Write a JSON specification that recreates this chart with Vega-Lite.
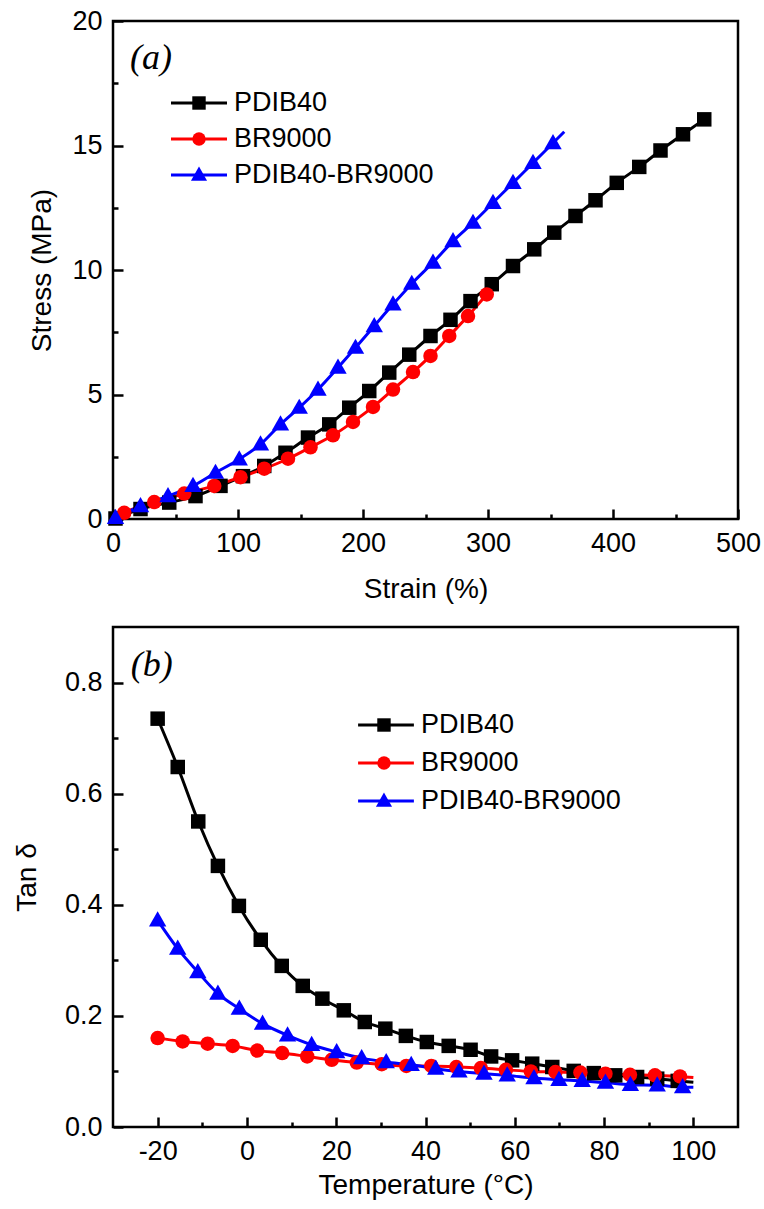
{
  "$schema": "https://vega.github.io/schema/vega-lite/v6.json",
  "padding": {"left": 12, "top": 5, "right": 5, "bottom": 5},
  "background": "white",
  "spacing": 20,
  "datasets": {
    "names": [
      {"series": "PDIB40"},
      {"series": "BR9000"},
      {"series": "PDIB40-BR9000"}
    ],
    "tensile": [
      {"series": "PDIB40", "strain": 2, "stress": 0.02, "sym": 1},
      {"series": "PDIB40", "strain": 22, "stress": 0.4, "sym": 1},
      {"series": "PDIB40", "strain": 45, "stress": 0.66, "sym": 1},
      {"series": "PDIB40", "strain": 66, "stress": 0.92, "sym": 1},
      {"series": "PDIB40", "strain": 86, "stress": 1.33, "sym": 1},
      {"series": "PDIB40", "strain": 104, "stress": 1.72, "sym": 1},
      {"series": "PDIB40", "strain": 121, "stress": 2.13, "sym": 1},
      {"series": "PDIB40", "strain": 138, "stress": 2.66, "sym": 1},
      {"series": "PDIB40", "strain": 156, "stress": 3.27, "sym": 1},
      {"series": "PDIB40", "strain": 173, "stress": 3.8, "sym": 1},
      {"series": "PDIB40", "strain": 189, "stress": 4.47, "sym": 1},
      {"series": "PDIB40", "strain": 205, "stress": 5.14, "sym": 1},
      {"series": "PDIB40", "strain": 221, "stress": 5.88, "sym": 1},
      {"series": "PDIB40", "strain": 237, "stress": 6.6, "sym": 1},
      {"series": "PDIB40", "strain": 254, "stress": 7.35, "sym": 1},
      {"series": "PDIB40", "strain": 270, "stress": 8.0, "sym": 1},
      {"series": "PDIB40", "strain": 286, "stress": 8.75, "sym": 1},
      {"series": "PDIB40", "strain": 303, "stress": 9.43, "sym": 1},
      {"series": "PDIB40", "strain": 320, "stress": 10.16, "sym": 1},
      {"series": "PDIB40", "strain": 337, "stress": 10.83, "sym": 1},
      {"series": "PDIB40", "strain": 353, "stress": 11.5, "sym": 1},
      {"series": "PDIB40", "strain": 370, "stress": 12.17, "sym": 1},
      {"series": "PDIB40", "strain": 386, "stress": 12.8, "sym": 1},
      {"series": "PDIB40", "strain": 403, "stress": 13.5, "sym": 1},
      {"series": "PDIB40", "strain": 421, "stress": 14.14, "sym": 1},
      {"series": "PDIB40", "strain": 438, "stress": 14.8, "sym": 1},
      {"series": "PDIB40", "strain": 456, "stress": 15.45, "sym": 1},
      {"series": "PDIB40", "strain": 473, "stress": 16.05, "sym": 1},
      {"series": "BR9000", "strain": 1, "stress": 0.02, "sym": 0},
      {"series": "BR9000", "strain": 9, "stress": 0.25, "sym": 1},
      {"series": "BR9000", "strain": 33, "stress": 0.68, "sym": 1},
      {"series": "BR9000", "strain": 57, "stress": 1.02, "sym": 1},
      {"series": "BR9000", "strain": 81, "stress": 1.33, "sym": 1},
      {"series": "BR9000", "strain": 102, "stress": 1.68, "sym": 1},
      {"series": "BR9000", "strain": 121, "stress": 2.02, "sym": 1},
      {"series": "BR9000", "strain": 140, "stress": 2.42, "sym": 1},
      {"series": "BR9000", "strain": 158, "stress": 2.88, "sym": 1},
      {"series": "BR9000", "strain": 176, "stress": 3.36, "sym": 1},
      {"series": "BR9000", "strain": 192, "stress": 3.9, "sym": 1},
      {"series": "BR9000", "strain": 208, "stress": 4.5, "sym": 1},
      {"series": "BR9000", "strain": 224, "stress": 5.2, "sym": 1},
      {"series": "BR9000", "strain": 240, "stress": 5.9, "sym": 1},
      {"series": "BR9000", "strain": 254, "stress": 6.55, "sym": 1},
      {"series": "BR9000", "strain": 269, "stress": 7.35, "sym": 1},
      {"series": "BR9000", "strain": 284, "stress": 8.15, "sym": 1},
      {"series": "BR9000", "strain": 299, "stress": 9.02, "sym": 1},
      {"series": "BR9000", "strain": 306, "stress": 9.4, "sym": 0},
      {"series": "PDIB40-BR9000", "strain": 2, "stress": 0.05, "sym": 1},
      {"series": "PDIB40-BR9000", "strain": 22, "stress": 0.52, "sym": 1},
      {"series": "PDIB40-BR9000", "strain": 44, "stress": 0.92, "sym": 1},
      {"series": "PDIB40-BR9000", "strain": 64, "stress": 1.33, "sym": 1},
      {"series": "PDIB40-BR9000", "strain": 82, "stress": 1.86, "sym": 1},
      {"series": "PDIB40-BR9000", "strain": 101, "stress": 2.4, "sym": 1},
      {"series": "PDIB40-BR9000", "strain": 118, "stress": 3.0, "sym": 1},
      {"series": "PDIB40-BR9000", "strain": 134, "stress": 3.8, "sym": 1},
      {"series": "PDIB40-BR9000", "strain": 149, "stress": 4.47, "sym": 1},
      {"series": "PDIB40-BR9000", "strain": 164, "stress": 5.2, "sym": 1},
      {"series": "PDIB40-BR9000", "strain": 180, "stress": 6.08, "sym": 1},
      {"series": "PDIB40-BR9000", "strain": 194, "stress": 6.88, "sym": 1},
      {"series": "PDIB40-BR9000", "strain": 209, "stress": 7.75, "sym": 1},
      {"series": "PDIB40-BR9000", "strain": 224, "stress": 8.62, "sym": 1},
      {"series": "PDIB40-BR9000", "strain": 239, "stress": 9.45, "sym": 1},
      {"series": "PDIB40-BR9000", "strain": 256, "stress": 10.3, "sym": 1},
      {"series": "PDIB40-BR9000", "strain": 272, "stress": 11.16, "sym": 1},
      {"series": "PDIB40-BR9000", "strain": 288, "stress": 11.9, "sym": 1},
      {"series": "PDIB40-BR9000", "strain": 304, "stress": 12.7, "sym": 1},
      {"series": "PDIB40-BR9000", "strain": 320, "stress": 13.5, "sym": 1},
      {"series": "PDIB40-BR9000", "strain": 336, "stress": 14.3, "sym": 1},
      {"series": "PDIB40-BR9000", "strain": 352, "stress": 15.1, "sym": 1},
      {"series": "PDIB40-BR9000", "strain": 361, "stress": 15.55, "sym": 0}
    ],
    "dma": [
      {"series": "PDIB40", "temp": -20, "tan": 0.735, "sym": 1},
      {"series": "PDIB40", "temp": -15.5, "tan": 0.648, "sym": 1},
      {"series": "PDIB40", "temp": -10.9, "tan": 0.55, "sym": 1},
      {"series": "PDIB40", "temp": -6.5, "tan": 0.47, "sym": 1},
      {"series": "PDIB40", "temp": -1.8, "tan": 0.398, "sym": 1},
      {"series": "PDIB40", "temp": 3.1, "tan": 0.337, "sym": 1},
      {"series": "PDIB40", "temp": 7.8, "tan": 0.29, "sym": 1},
      {"series": "PDIB40", "temp": 12.5, "tan": 0.254, "sym": 1},
      {"series": "PDIB40", "temp": 16.9, "tan": 0.231, "sym": 1},
      {"series": "PDIB40", "temp": 21.7, "tan": 0.21, "sym": 1},
      {"series": "PDIB40", "temp": 26.4, "tan": 0.189, "sym": 1},
      {"series": "PDIB40", "temp": 31, "tan": 0.177, "sym": 1},
      {"series": "PDIB40", "temp": 35.6, "tan": 0.164, "sym": 1},
      {"series": "PDIB40", "temp": 40.3, "tan": 0.153, "sym": 1},
      {"series": "PDIB40", "temp": 45.2, "tan": 0.146, "sym": 1},
      {"series": "PDIB40", "temp": 50.1, "tan": 0.139, "sym": 1},
      {"series": "PDIB40", "temp": 54.7, "tan": 0.127, "sym": 1},
      {"series": "PDIB40", "temp": 59.4, "tan": 0.12, "sym": 1},
      {"series": "PDIB40", "temp": 63.9, "tan": 0.114, "sym": 1},
      {"series": "PDIB40", "temp": 68.4, "tan": 0.108, "sym": 1},
      {"series": "PDIB40", "temp": 73.2, "tan": 0.101, "sym": 1},
      {"series": "PDIB40", "temp": 77.7, "tan": 0.097, "sym": 1},
      {"series": "PDIB40", "temp": 82.5, "tan": 0.093, "sym": 1},
      {"series": "PDIB40", "temp": 87.4, "tan": 0.09, "sym": 1},
      {"series": "PDIB40", "temp": 91.9, "tan": 0.087, "sym": 1},
      {"series": "PDIB40", "temp": 96.5, "tan": 0.083, "sym": 1},
      {"series": "PDIB40", "temp": 100, "tan": 0.0805, "sym": 0},
      {"series": "BR9000", "temp": -20, "tan": 0.16, "sym": 1},
      {"series": "BR9000", "temp": -14.4, "tan": 0.154, "sym": 1},
      {"series": "BR9000", "temp": -8.8, "tan": 0.15, "sym": 1},
      {"series": "BR9000", "temp": -3.2, "tan": 0.146, "sym": 1},
      {"series": "BR9000", "temp": 2.3, "tan": 0.1375, "sym": 1},
      {"series": "BR9000", "temp": 7.9, "tan": 0.133, "sym": 1},
      {"series": "BR9000", "temp": 13.5, "tan": 0.127, "sym": 1},
      {"series": "BR9000", "temp": 19, "tan": 0.121, "sym": 1},
      {"series": "BR9000", "temp": 24.6, "tan": 0.116, "sym": 1},
      {"series": "BR9000", "temp": 30.2, "tan": 0.113, "sym": 1},
      {"series": "BR9000", "temp": 35.7, "tan": 0.11, "sym": 1},
      {"series": "BR9000", "temp": 41.3, "tan": 0.11, "sym": 1},
      {"series": "BR9000", "temp": 46.9, "tan": 0.108, "sym": 1},
      {"series": "BR9000", "temp": 52.4, "tan": 0.106, "sym": 1},
      {"series": "BR9000", "temp": 58, "tan": 0.103, "sym": 1},
      {"series": "BR9000", "temp": 63.6, "tan": 0.1, "sym": 1},
      {"series": "BR9000", "temp": 69.1, "tan": 0.099, "sym": 1},
      {"series": "BR9000", "temp": 74.7, "tan": 0.098, "sym": 1},
      {"series": "BR9000", "temp": 80.3, "tan": 0.096, "sym": 1},
      {"series": "BR9000", "temp": 85.8, "tan": 0.094, "sym": 1},
      {"series": "BR9000", "temp": 91.4, "tan": 0.093, "sym": 1},
      {"series": "BR9000", "temp": 97, "tan": 0.091, "sym": 1},
      {"series": "BR9000", "temp": 100, "tan": 0.089, "sym": 0},
      {"series": "PDIB40-BR9000", "temp": -20, "tan": 0.372, "sym": 1},
      {"series": "PDIB40-BR9000", "temp": -15.5, "tan": 0.321, "sym": 1},
      {"series": "PDIB40-BR9000", "temp": -11, "tan": 0.279, "sym": 1},
      {"series": "PDIB40-BR9000", "temp": -6.5, "tan": 0.24, "sym": 1},
      {"series": "PDIB40-BR9000", "temp": -1.7, "tan": 0.213, "sym": 1},
      {"series": "PDIB40-BR9000", "temp": 3.5, "tan": 0.186, "sym": 1},
      {"series": "PDIB40-BR9000", "temp": 9.1, "tan": 0.165, "sym": 1},
      {"series": "PDIB40-BR9000", "temp": 14.5, "tan": 0.148, "sym": 1},
      {"series": "PDIB40-BR9000", "temp": 20.1, "tan": 0.135, "sym": 1},
      {"series": "PDIB40-BR9000", "temp": 25.7, "tan": 0.124, "sym": 1},
      {"series": "PDIB40-BR9000", "temp": 31.2, "tan": 0.117, "sym": 1},
      {"series": "PDIB40-BR9000", "temp": 36.8, "tan": 0.112, "sym": 1},
      {"series": "PDIB40-BR9000", "temp": 42.3, "tan": 0.105, "sym": 1},
      {"series": "PDIB40-BR9000", "temp": 47.5, "tan": 0.1, "sym": 1},
      {"series": "PDIB40-BR9000", "temp": 53.1, "tan": 0.096, "sym": 1},
      {"series": "PDIB40-BR9000", "temp": 58.3, "tan": 0.093, "sym": 1},
      {"series": "PDIB40-BR9000", "temp": 64.3, "tan": 0.088, "sym": 1},
      {"series": "PDIB40-BR9000", "temp": 69.9, "tan": 0.085, "sym": 1},
      {"series": "PDIB40-BR9000", "temp": 75.1, "tan": 0.083, "sym": 1},
      {"series": "PDIB40-BR9000", "temp": 80.3, "tan": 0.08, "sym": 1},
      {"series": "PDIB40-BR9000", "temp": 85.9, "tan": 0.076, "sym": 1},
      {"series": "PDIB40-BR9000", "temp": 91.9, "tan": 0.075, "sym": 1},
      {"series": "PDIB40-BR9000", "temp": 97.6, "tan": 0.072, "sym": 1},
      {"series": "PDIB40-BR9000", "temp": 100, "tan": 0.0715, "sym": 0}
    ]
  },
  "vconcat": [
    {
      "width": 625,
      "height": 498,
      "resolve": {"scale": {"y": "independent"}, "axis": {"y": "independent"}},
      "layer": [
        {
          "data": {"name": "tensile"},
          "encoding": {
            "color": {
              "field": "series", "type": "nominal", "legend": null,
              "scale": {"domain": ["PDIB40", "BR9000", "PDIB40-BR9000"], "range": ["#000000", "#ff0000", "#0000ff"]}
            }
          },
          "layer": [
            {
              "mark": {"type": "line", "strokeWidth": 3, "interpolate": "monotone"},
              "encoding": {
                "x": {
                  "field": "strain", "type": "quantitative",
                  "scale": {"domain": [0, 500], "nice": false, "zero": false},
                  "axis": {
                    "title": "Strain (%)",
                    "titlePadding": 14,
                    "values": [0, 50, 100, 150, 200, 250, 300, 350, 400, 450, 500],
                    "labelExpr": "datum.value % 100 === 0 ? '' + datum.value : ''",
                    "tickSize": {"condition": {"test": "datum.value % 100 === 0", "value": -10}, "value": -5}
                  }
                },
                "y": {
                  "field": "stress", "type": "quantitative",
                  "scale": {"domain": [0, 20], "nice": false, "zero": false},
                  "axis": {
                    "title": "Stress (MPa)",
                    "titlePadding": 15,
                    "values": [0, 2.5, 5, 7.5, 10, 12.5, 15, 17.5, 20],
                    "labelExpr": "datum.value % 5 === 0 ? '' + datum.value : ''",
                    "tickSize": {"condition": {"test": "datum.value % 5 === 0", "value": -10}, "value": -5}
                  }
                }
              }
            },
            {
              "transform": [{"filter": "datum.sym === 1"}],
              "mark": {"type": "point", "filled": true, "opacity": 1, "size": 210},
              "encoding": {
                "x": {"field": "strain", "type": "quantitative"},
                "y": {"field": "stress", "type": "quantitative"},
                "shape": {
                  "field": "series", "type": "nominal", "legend": null,
                  "scale": {"domain": ["PDIB40", "BR9000", "PDIB40-BR9000"], "range": ["square", "circle", "M0,-1.25L1.2,0.85H-1.2Z"]}
                }
              }
            },
            {
              "data": {"values": [{"label": "(a)"}]},
              "mark": {"type": "text", "font": "Liberation Serif", "fontStyle": "italic", "fontSize": 36, "align": "center", "baseline": "middle"},
              "encoding": {
                "x": {"datum": 30.4, "type": "quantitative"},
                "y": {"datum": 18.5, "type": "quantitative"},
                "text": {"field": "label"},
                "color": {"value": "#000000"}
              }
            }
          ]
        },
        {
          "data": {"name": "names"},
          "encoding": {
            "y": {
              "field": "series", "type": "nominal", "axis": null,
              "scale": {"type": "point", "domain": ["PDIB40", "BR9000", "PDIB40-BR9000"], "range": [82, 154], "padding": 0}
            }
          },
          "layer": [
            {
              "mark": {"type": "rule", "strokeWidth": 3},
              "encoding": {
                "x": {"datum": 46.4, "type": "quantitative"},
                "x2": {"datum": 91.2},
                "color": {"field": "series", "type": "nominal", "legend": null}
              }
            },
            {
              "mark": {"type": "point", "filled": true, "opacity": 1, "size": 180},
              "encoding": {
                "x": {"datum": 68.8, "type": "quantitative"},
                "color": {"field": "series", "type": "nominal", "legend": null},
                "shape": {"field": "series", "type": "nominal", "legend": null}
              }
            },
            {
              "mark": {"type": "text", "font": "Liberation Sans", "fontSize": 27, "align": "left", "baseline": "middle"},
              "encoding": {
                "x": {"datum": 96.8, "type": "quantitative"},
                "text": {"field": "series"},
                "color": {"value": "#000000"}
              }
            }
          ]
        }
      ]
    },
    {
      "width": 625,
      "height": 500,
      "resolve": {"scale": {"y": "independent"}, "axis": {"y": "independent"}},
      "layer": [
        {
          "data": {"name": "dma"},
          "encoding": {
            "color": {
              "field": "series", "type": "nominal", "legend": null,
              "scale": {"domain": ["PDIB40", "BR9000", "PDIB40-BR9000"], "range": ["#000000", "#ff0000", "#0000ff"]}
            }
          },
          "layer": [
            {
              "mark": {"type": "line", "strokeWidth": 3, "interpolate": "monotone"},
              "encoding": {
                "x": {
                  "field": "temp", "type": "quantitative",
                  "scale": {"domain": [-30, 110], "nice": false, "zero": false},
                  "axis": {
                    "title": "Temperature (°C)",
                    "titlePadding": 2,
                    "values": [-20, -10, 0, 10, 20, 30, 40, 50, 60, 70, 80, 90, 100],
                    "labelExpr": "datum.value % 20 === 0 ? '' + datum.value : ''",
                    "tickSize": {"condition": {"test": "datum.value % 20 === 0", "value": -10}, "value": -5}
                  }
                },
                "y": {
                  "field": "tan", "type": "quantitative",
                  "scale": {"domain": [0, 0.9], "nice": false, "zero": false},
                  "axis": {
                    "title": "Tan δ",
                    "titlePadding": 23,
                    "values": [0, 0.1, 0.2, 0.3, 0.4, 0.5, 0.6, 0.7, 0.8],
                    "labelExpr": "round(datum.value * 10) % 2 === 0 ? format(datum.value, '.1f') : ''",
                    "tickSize": {"condition": {"test": "round(datum.value * 10) % 2 === 0", "value": -10}, "value": -5}
                  }
                }
              }
            },
            {
              "transform": [{"filter": "datum.sym === 1"}],
              "mark": {"type": "point", "filled": true, "opacity": 1, "size": 210},
              "encoding": {
                "x": {"field": "temp", "type": "quantitative"},
                "y": {"field": "tan", "type": "quantitative"},
                "shape": {
                  "field": "series", "type": "nominal", "legend": null,
                  "scale": {"domain": ["PDIB40", "BR9000", "PDIB40-BR9000"], "range": ["square", "circle", "M0,-1.25L1.2,0.85H-1.2Z"]}
                }
              }
            },
            {
              "data": {"values": [{"label": "(b)"}]},
              "mark": {"type": "text", "font": "Liberation Serif", "fontStyle": "italic", "fontSize": 36, "align": "center", "baseline": "middle"},
              "encoding": {
                "x": {"datum": -21.3, "type": "quantitative"},
                "y": {"datum": 0.832, "type": "quantitative"},
                "text": {"field": "label"},
                "color": {"value": "#000000"}
              }
            }
          ]
        },
        {
          "data": {"name": "names"},
          "encoding": {
            "y": {
              "field": "series", "type": "nominal", "axis": null,
              "scale": {"type": "point", "domain": ["PDIB40", "BR9000", "PDIB40-BR9000"], "range": [98, 174], "padding": 0}
            }
          },
          "layer": [
            {
              "mark": {"type": "rule", "strokeWidth": 3},
              "encoding": {
                "x": {"datum": 24.9, "type": "quantitative"},
                "x2": {"datum": 37.4},
                "color": {"field": "series", "type": "nominal", "legend": null}
              }
            },
            {
              "mark": {"type": "point", "filled": true, "opacity": 1, "size": 180},
              "encoding": {
                "x": {"datum": 30.7, "type": "quantitative"},
                "color": {"field": "series", "type": "nominal", "legend": null},
                "shape": {"field": "series", "type": "nominal", "legend": null}
              }
            },
            {
              "mark": {"type": "text", "font": "Liberation Sans", "fontSize": 27, "align": "left", "baseline": "middle"},
              "encoding": {
                "x": {"datum": 39.0, "type": "quantitative"},
                "text": {"field": "series"},
                "color": {"value": "#000000"}
              }
            }
          ]
        }
      ]
    }
  ],
  "resolve": {
    "scale": {"x": "independent", "y": "independent", "color": "independent", "shape": "independent"}
  },
  "config": {
    "view": {"stroke": "#000000", "strokeWidth": 2.5},
    "axis": {
      "grid": false,
      "domain": false,
      "labelFont": "Liberation Sans",
      "labelFontSize": 27,
      "labelColor": "#000000",
      "labelFlush": false,
      "labelOverlap": false,
      "labelPadding": 21,
      "titleFont": "Liberation Sans",
      "titleFontSize": 28,
      "titleFontWeight": "normal",
      "titleColor": "#000000",
      "titlePadding": 8,
      "tickColor": "#000000",
      "tickWidth": 2.5
    }
  }
}
